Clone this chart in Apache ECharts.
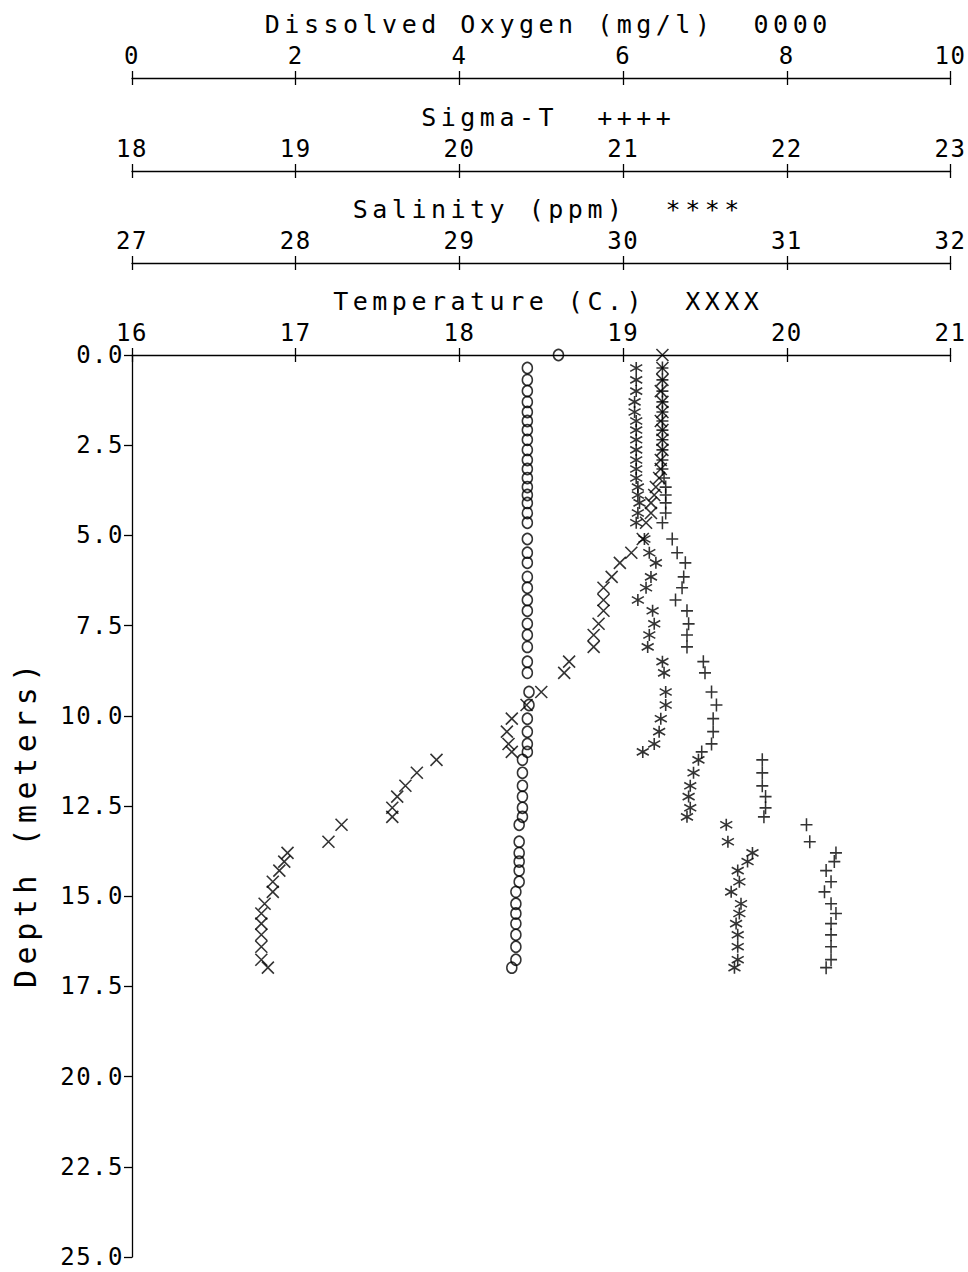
<!DOCTYPE html>
<html>
<head>
<meta charset="utf-8">
<script src="https://cdn.jsdelivr.net/npm/echarts@6/dist/echarts.min.js"></script>
<style>
  html, body { margin: 0; padding: 0; background: #fff; }
  #chart { width: 968px; height: 1272px; }
</style>
</head>
<body>
<div id="chart"></div>
<script>
// Station profile: sample depths (m) and the four measured quantities
const depth = [0.00, 0.36, 0.69, 1.00, 1.30, 1.58, 1.83, 2.08, 2.35, 2.63, 2.91, 3.16, 3.41, 3.66, 3.88, 4.10,
  4.38, 4.65, 5.10, 5.48, 5.76, 6.15, 6.45, 6.79, 7.09, 7.45, 7.76, 8.09, 8.50, 8.81, 9.34, 9.70,
  10.08, 10.44, 10.78, 11.00, 11.22, 11.58, 11.94, 12.24, 12.55, 12.80, 13.02, 13.49, 13.80, 14.04,
  14.29, 14.60, 14.88, 15.21, 15.48, 15.76, 16.07, 16.40, 16.76, 16.98];

const temperature = [19.24, 19.24, 19.24, 19.23, 19.24, 19.24, 19.23, 19.24, 19.24, 19.24, 19.23, 19.23,
  19.22, 19.20, 19.19, 19.17, 19.17, 19.14, 19.12, 19.05, 18.98, 18.93, 18.88, 18.88, 18.88, 18.85,
  18.82, 18.82, 18.67, 18.64, 18.50, 18.41, 18.32, 18.29, 18.30, 18.32, 17.86, 17.74, 17.67, 17.62,
  17.59, 17.59, 17.28, 17.20, 16.95, 16.93, 16.90, 16.86, 16.86, 16.81, 16.79, 16.79, 16.79, 16.79,
  16.79, 16.83];

const salinity = [null, 30.08, 30.08, 30.08, 30.07, 30.07, 30.08, 30.08, 30.08, 30.08, 30.08, 30.08,
  30.08, 30.09, 30.09, 30.10, 30.09, 30.08, 30.13, 30.16, 30.20, 30.17, 30.14, 30.09, 30.18, 30.19,
  30.16, 30.15, 30.24, 30.25, 30.26, 30.26, 30.23, 30.22, 30.19, 30.12, 30.46, 30.43, 30.41, 30.40,
  30.41, 30.39, 30.63, 30.64, 30.79, 30.76, 30.70, 30.71, 30.66, 30.72, 30.71, 30.69, 30.70, 30.70,
  30.70, 30.68];

const sigmaT = [null, 21.24, 21.24, 21.24, 21.24, 21.24, 21.24, 21.24, 21.24, 21.24, 21.24, 21.24,
  21.25, 21.26, 21.26, 21.26, 21.26, 21.24, 21.30, 21.33, 21.38, 21.37, 21.36, 21.32, 21.39, 21.40,
  21.39, 21.39, 21.49, 21.50, 21.54, 21.57, 21.55, 21.55, 21.54, 21.48, 21.85, 21.85, 21.85, 21.87,
  21.87, 21.86, 22.12, 22.14, 22.30, 22.29, 22.24, 22.27, 22.23, 22.27, 22.30, 22.27, 22.27, 22.27,
  22.27, 22.24];

const oxygen = [5.21, 4.83, 4.83, 4.83, 4.83, 4.83, 4.83, 4.83, 4.83, 4.83, 4.83, 4.83, 4.83, 4.83,
  4.83, 4.83, 4.83, 4.83, 4.83, 4.83, 4.83, 4.83, 4.83, 4.83, 4.83, 4.83, 4.83, 4.83, 4.83, 4.83,
  4.85, 4.85, 4.83, 4.83, 4.83, 4.83, 4.77, 4.77, 4.77, 4.77, 4.77, 4.77, 4.73, 4.73, 4.73, 4.73,
  4.73, 4.73, 4.69, 4.69, 4.69, 4.69, 4.69, 4.69, 4.69, 4.64];

// Top scales, innermost first
const scaleTitles = ['Temperature (C.)  XXXX', 'Salinity (ppm)  ****', 'Sigma-T  ++++', 'Dissolved Oxygen (mg/l)  0000'];
const scaleMin = [16, 27, 18, 0];
const scaleMax = [21, 32, 23, 10];
const scaleStep = [1, 1, 1, 2];
const scaleOffset = [0, 92, 184, 277];
const depthTicks = { min: 0, max: 25, step: 2.5 };

const FONT = 'DejaVu Sans Mono';
const INK = '#000';
const SIZE_LABEL = 24, SIZE_TITLE = 25, SIZE_DEPTH = 30;
// extra tracking per text size, for the wide plotter lettering
const TRACKING = { [SIZE_LABEL]: 1.5, [SIZE_TITLE]: 4.5, [SIZE_DEPTH]: 5.5 };
const nb = s => s.replace(/ /g, '\u00A0');

function topAxis(i, outer) {
  return {
    type: 'value', position: 'top', offset: scaleOffset[i],
    min: scaleMin[i], max: scaleMax[i], interval: scaleStep[i],
    name: outer ? nb(scaleTitles[i]) : '',
    nameLocation: 'middle', nameGap: 41,
    nameTextStyle: { fontFamily: FONT, fontSize: SIZE_TITLE, color: INK, padding: [0, 0, 0, 14] },
    axisLine: { show: outer, lineStyle: { color: INK, width: 1.3 } },
    axisTick: { show: true, inside: !outer, length: 7, lineStyle: { color: INK, width: 1.3 } },
    axisLabel: { show: outer, margin: 10, fontFamily: FONT, fontSize: SIZE_LABEL, color: INK },
    splitLine: { show: false }
  };
}

const xAxes = [];
for (let i = 0; i < 4; i++) xAxes.push(topAxis(i, true));
for (let i = 0; i < 4; i++) xAxes.push(topAxis(i, false));   // inner halves of the crossing ticks

const sym = {
  ex: 'path://M0,0L10,10M10,0L0,10',
  star: 'path://M5,0L5,10M0,2.2L10,7.8M10,2.2L0,7.8',
  plus: 'path://M5,0L5,10M0,5L10,5'
};

function pairs(values) {
  const out = [];
  values.forEach((v, k) => { if (v !== null) out.push([v, depth[k]]); });
  return out;
}

function markSeries(name, axis, values, symbol, size) {
  return {
    name, type: 'scatter', xAxisIndex: axis, yAxisIndex: 0,
    data: pairs(values), symbol, symbolSize: size, silent: true,
    itemStyle: { color: 'rgba(0,0,0,0)', borderColor: INK, borderWidth: 1.6 }
  };
}

const el = document.getElementById('chart');
const chart = echarts.init(el, null, { renderer: 'svg' });
chart.setOption({
  backgroundColor: '#fff',
  animation: false,
  grid: { left: 132, right: 16, top: 355, bottom: 15, containLabel: false },
  xAxis: xAxes,
  yAxis: {
    type: 'value', inverse: true,
    min: depthTicks.min, max: depthTicks.max, interval: depthTicks.step,
    name: nb('Depth (meters)'), nameLocation: 'middle', nameGap: 92, nameRotate: 90,
    nameTextStyle: { fontFamily: FONT, fontSize: SIZE_DEPTH, color: INK, padding: [0, 34, 0, 0] },
    axisLine: { show: true, lineStyle: { color: INK, width: 1.3 } },
    axisTick: { show: true, length: 8, lineStyle: { color: INK, width: 1.3 } },
    axisLabel: { margin: 8, fontFamily: FONT, fontSize: SIZE_LABEL, color: INK, formatter: v => v.toFixed(1) },
    splitLine: { show: false }
  },
  series: [
    markSeries('Dissolved Oxygen', 3, oxygen, 'circle', [10, 11]),
    markSeries('Sigma-T', 2, sigmaT, sym.plus, [12, 13]),
    markSeries('Salinity', 1, salinity, sym.star, [12, 12]),
    markSeries('Temperature', 0, temperature, sym.ex, [12, 12])
  ]
});

// apply letter tracking to the rendered text by size
el.querySelectorAll('text').forEach(t => {
  const fs = Math.round(parseFloat(getComputedStyle(t).fontSize));
  if (TRACKING[fs] !== undefined) t.style.letterSpacing = TRACKING[fs] + 'px';
});
</script>
</body>
</html>
